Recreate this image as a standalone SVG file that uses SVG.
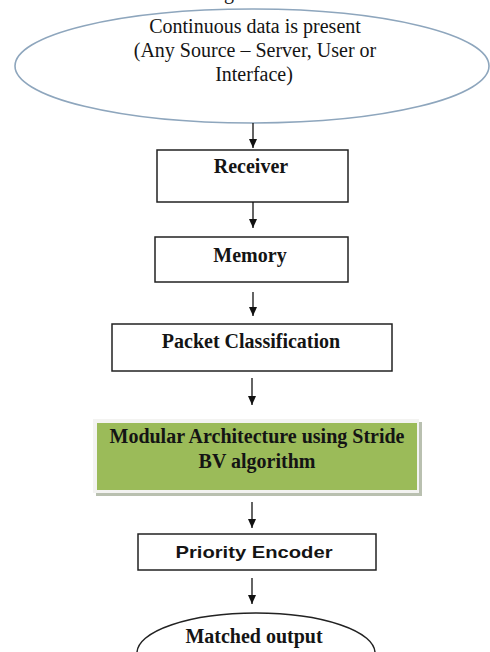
<svg xmlns="http://www.w3.org/2000/svg" width="490" height="652" viewBox="0 0 490 652">
  <defs>
    <marker id="ah" markerWidth="9" markerHeight="8" refX="9" refY="4" orient="auto" markerUnits="userSpaceOnUse" viewBox="0 0 9 8">
      <path d="M0,0 L9,4 L0,8 Z" fill="#111"/>
    </marker>
  </defs>
  <style>
    .box { fill: #ffffff; stroke: #222; stroke-width: 1.5; }
    .serif { font-family: "Liberation Serif", "Times New Roman", serif; font-size: 20px; fill: #141414; text-anchor: middle; }
    .b { font-weight: bold; }
    .sans { font-family: "Liberation Sans", Arial, sans-serif; font-size: 17px; font-weight: bold; fill: #141414; text-anchor: middle; }
    .conn line { stroke: #111; stroke-width: 1.3; marker-end: url(#ah); }
  </style>
  <rect width="490" height="652" fill="#ffffff"/>

  <text x="229" y="-1" class="serif">g</text>

  <g id="source">
    <ellipse cx="252" cy="66" rx="237" ry="57" fill="#ffffff" stroke="#8ea6bd" stroke-width="1.6"/>
    <text x="255" y="33" class="serif">Continuous data is present</text>
    <text x="255" y="57" class="serif">(Any Source – Server, User or</text>
    <text x="254" y="81" class="serif">Interface)</text>
  </g>

  <g id="receiver">
    <rect x="157" y="150" width="191" height="52" class="box"/>
    <text x="251" y="173" class="serif b">Receiver</text>
  </g>

  <g id="memory">
    <rect x="155" y="237" width="193" height="45" class="box"/>
    <text x="250" y="262" class="serif b">Memory</text>
  </g>

  <g id="packet">
    <rect x="112" y="324" width="280" height="47" class="box"/>
    <text x="251" y="348" class="serif b">Packet Classification</text>
  </g>

  <g id="modular">
    <rect x="96" y="422" width="326" height="74" fill="#b9c0b0"/>
    <rect x="93" y="419" width="326" height="74" fill="#f3f3f1"/>
    <rect x="97" y="423" width="320" height="67" fill="#9bbb59"/>
    <text x="257" y="443" class="serif b">Modular Architecture using Stride</text>
    <text x="257" y="468" class="serif b">BV algorithm</text>
  </g>

  <g id="priority">
    <rect x="138" y="534" width="238" height="36" class="box"/>
    <text x="254" y="558" class="sans" textLength="157" lengthAdjust="spacingAndGlyphs">Priority Encoder</text>
  </g>

  <g id="matched">
    <ellipse cx="256" cy="653" rx="119" ry="40" fill="#ffffff" stroke="#222" stroke-width="1.5"/>
    <text x="254" y="643" class="serif b">Matched output</text>
  </g>

  <g id="connectors" class="conn">
    <line x1="253" y1="123" x2="253" y2="148"/>
    <line x1="253" y1="202" x2="253" y2="228"/>
    <line x1="253" y1="292" x2="253" y2="316"/>
    <line x1="252" y1="378" x2="252" y2="405"/>
    <line x1="252" y1="502" x2="252" y2="528"/>
    <line x1="252" y1="578" x2="252" y2="604"/>
  </g>
</svg>
